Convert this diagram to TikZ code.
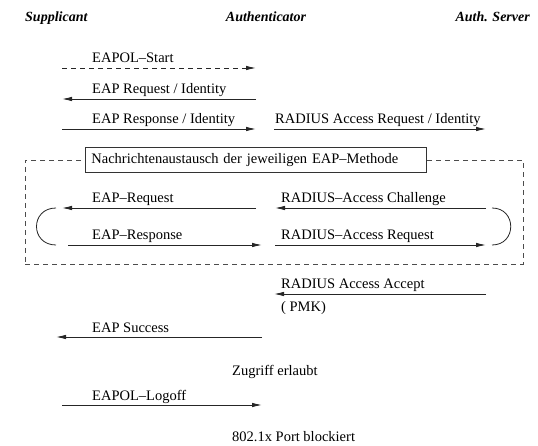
\documentclass[tikz,border=0pt]{standalone}
\usepackage{fontspec}
\setmainfont{Liberation Serif}
\usetikzlibrary{arrows.meta}

\begin{document}
\begin{tikzpicture}[x=1pt, y=-1pt, >={Latex[length=10pt, width=4.5pt]},
  font=\fontsize{14.5}{16}\selectfont,
  msg/.style={->, line width=0.9pt, draw=black!85},
  lbl/.style={anchor=base west, inner sep=0pt},
  role/.style={anchor=base, inner sep=0pt, font=\fontsize{14}{16}\selectfont\bfseries\itshape}]

\useasboundingbox (0,0) rectangle (538,446);

% participants
\node[role, anchor=base west] (supp) at (25,22) {Supplicant};
\node[role] (auth) at (266,22) {Authenticator};
\node[role, anchor=base east] (srv) at (530,22) {Auth. Server};

% EAP method exchange (dashed frame with caption box)
\node[draw=black!70, dashed, dash pattern=on 5pt off 4pt, line width=0.8pt,
  minimum width=498pt, minimum height=104pt, inner sep=0pt] (frame) at (274,212) {};
\node[draw=black!80, fill=white, line width=0.8pt, anchor=west, align=left,
  text width=329pt, inner sep=6pt, minimum height=24pt] (meth) at (85,160)
  {Nachrichtenaustausch der jeweiligen EAP--Methode};

% message end points
\coordinate (s1) at (62,68);    \coordinate (a1) at (256,68);
\coordinate (s2) at (62,99);    \coordinate (a2) at (256,99);
\coordinate (s3) at (62,129);   \coordinate (a3) at (256,129);
\coordinate (a3r) at (274,129); \coordinate (r3) at (486,129);
\coordinate (s4) at (62,208);   \coordinate (a4) at (256,208);
\coordinate (a4r) at (275,208); \coordinate (r4) at (486,208);
\coordinate (s5) at (68,245);   \coordinate (a5) at (262,245);
\coordinate (a5r) at (275,245); \coordinate (r5) at (486,245);
\coordinate (a6) at (274,294);  \coordinate (r6) at (486,294);
\coordinate (s7) at (56,337);   \coordinate (a7) at (262,337);
\coordinate (s8) at (62,405);   \coordinate (a8) at (262,405);

% loop turns
\coordinate (lt) at (56,208);   \coordinate (lb) at (56,245);
\coordinate (rt) at (492,208);  \coordinate (rb) at (492,245);

% messages
\draw[msg, dashed, dash pattern=on 5pt off 4pt] (s1) -- (a1);
\node[lbl] (m1) at (92,63) {EAPOL--Start};
\draw[msg] (a2) -- (s2);
\node[lbl] (m2) at (92,94) {EAP Request / Identity};
\draw[msg] (s3) -- (a3);
\node[lbl] (m3) at (92,124) {EAP Response / Identity};
\draw[msg] (a3r) -- (r3);
\node[lbl] (m3r) at (275,124) {RADIUS Access Request / Identity};

\draw[msg] (a4) -- (s4);
\node[lbl] (m4) at (92,203) {EAP--Request};
\draw[msg] (r4) -- (a4r);
\node[lbl] (m4r) at (281,203) {RADIUS--Access Challenge};
\draw[msg] (s5) -- (a5);
\node[lbl] (m5) at (92,240) {EAP--Response};
\draw[msg] (a5r) -- (r5);
\node[lbl] (m5r) at (281,240) {RADIUS--Access Request};

\draw[line width=0.8pt, black!85] (lt) .. controls (30,208) and (30,245) .. (lb);
\draw[line width=0.8pt, black!85] (rt) .. controls (517,208) and (517,245) .. (rb);

\draw[msg] (r6) -- (a6);
\node[lbl] (m6) at (281,289) {RADIUS Access Accept};
\node[lbl] (pmk) at (281,312) {( PMK)};
\draw[msg] (a7) -- (s7);
\node[lbl] (m7) at (92,332) {EAP Success};
\node[lbl] (ok) at (232,375) {Zugriff erlaubt};
\draw[msg] (s8) -- (a8);
\node[lbl] (m8) at (92,400) {EAPOL--Logoff};
\node[lbl] (blk) at (232,441) {802.1x Port blockiert};

\end{tikzpicture}
\end{document}
